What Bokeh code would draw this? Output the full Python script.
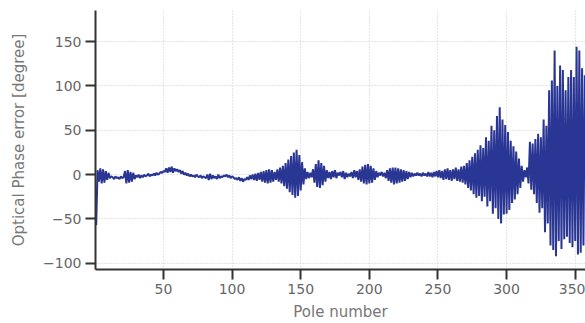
from bokeh.plotting import figure
from bokeh.models import Range1d, FixedTicker
from bokeh.embed import file_html
from bokeh.resources import INLINE

# Optical phase error per pole (degree), pole numbers 1..357
phase_error = [
    -57, 5, -8, 7, -10, 6, -9, 4, -6, 2,
    -4, -2, -3, -5, -2, -4, -3, -5, -2, -4,
    -3, 4, -10, 5, -9, 3, -8, 2, -5, -1,
    -3, 0, -4, -1, -3, 0, -2, -1, 1, -2,
    0, -1, 1, -1, 2, 0, 1, 3, 2, 4,
    3, 7, 2, 8, 3, 9, 2, 7, 4, 6,
    3, 5, 1, 4, 0, 2, -1, 1, -2, 0,
    -2, -1, -3, 0, -2, -3, -1, -4, -2, -3,
    -4, 0, -6, 1, -5, -1, -4, -2, -5, 0,
    -4, -2, -3, -1, -2, 0, -3, -1, -4, -2,
    -3, -5, -4, -6, -3, -7, -4, -8, -5, -6,
    -3, -6, -1, -5, 0, -6, 1, -7, 2, -6,
    3, -8, 4, -9, 5, -10, 6, -9, 5, -8,
    3, -6, 6, -8, 8, -10, 10, -13, 13, -16,
    17, -20, 21, -23, 25, -26, 28, -24, 22, -18,
    14, -11, 7, -5, 3, -4, 2, -3, 6, -9,
    12, -14, 16, -15, 13, -12, 10, -8, 5, -4,
    3, -5, 4, -3, 5, -4, 2, -1, 3, -3,
    4, -5, 2, -3, 1, -2, 3, -4, 5, -3,
    4, -6, 6, -8, 9, -10, 11, -11, 12, -10,
    10, -9, 7, -6, 4, -3, 2, -1, 3, -2,
    2, -4, 5, -7, 7, -9, 8, -11, 8, -10,
    7, -9, 6, -8, 5, -7, 4, -5, 3, -3,
    2, -2, 1, -1, 2, -1, 1, -2, 2, -1,
    1, -2, 3, -2, 2, -3, 3, -2, 4, -3,
    5, -4, 4, -6, 6, -5, 7, -6, 5, -7,
    6, -5, 8, -7, 6, -8, 9, -9, 10, -11,
    13, -15, 16, -18, 20, -22, 24, -26, 28, -24,
    33, -30, 30, -25, 42, -36, 38, -30, 55, -44,
    50, -38, 66, -50, 76, -55, 62, -45, 56, -44,
    48, -40, 38, -32, 32, -28, 26, -22, 18, -15,
    10, -8, 5, -3, 8, -10, 37, -17, 35, -22,
    40, -32, 46, -43, 42, -38, 62, -65, 55, -55,
    95, -80, 106, -85, 140, -92, 100, -75, 123, -84,
    118, -73, 95, -70, 110, -77, 118, -82, 110, -75,
    144, -90, 140, -88, 120, -80, 112,
]
pole_number = list(range(1, len(phase_error) + 1))

x_ticks = [50, 100, 150, 200, 250, 300, 350]
y_ticks = [-100, -50, 0, 50, 100, 150]

p = figure(width=585, height=323, output_backend="svg", toolbar_location=None,
           x_range=Range1d(0.5, 357.5), y_range=Range1d(-107, 185),
           min_border_left=95, min_border_right=0, min_border_top=10,
           min_border_bottom=53)
p.outline_line_color = None
p.background_fill_color = "white"
p.border_fill_color = "white"

p.line(pole_number, phase_error, line_color="#2a3694", line_width=2)

for ax in (p.xaxis[0], p.yaxis[0]):
    ax.axis_line_color = "#333333"
    ax.axis_line_width = 2
    ax.major_tick_line_color = "#333333"
    ax.major_tick_line_width = 2
    ax.major_tick_out = 10
    ax.major_tick_in = 0
    ax.minor_tick_line_color = None
    ax.major_label_text_font = "DejaVu Sans"
    ax.major_label_text_font_size = "14px"
    ax.major_label_text_color = "#666666"
    ax.axis_label_text_font = "DejaVu Sans"
    ax.axis_label_text_font_size = "15px"
    ax.axis_label_text_font_style = "normal"
    ax.axis_label_text_color = "#777777"

p.xaxis[0].ticker = FixedTicker(ticks=x_ticks)
p.yaxis[0].ticker = FixedTicker(ticks=y_ticks)
p.xaxis[0].axis_label = "Pole number"
p.yaxis[0].axis_label = "Optical Phase error [degree]"
p.xaxis[0].major_label_standoff = 4
p.xaxis[0].axis_label_standoff = 6
p.yaxis[0].major_label_standoff = 4
p.yaxis[0].axis_label_standoff = 12

p.xgrid.ticker = FixedTicker(ticks=x_ticks)
p.ygrid.ticker = FixedTicker(ticks=y_ticks)
for g in (p.xgrid[0], p.ygrid[0]):
    g.grid_line_color = "#c8c8c8"
    g.grid_line_dash = "1 2"
    g.grid_line_width = 1

open("out.html", "w").write(file_html(p, INLINE))
